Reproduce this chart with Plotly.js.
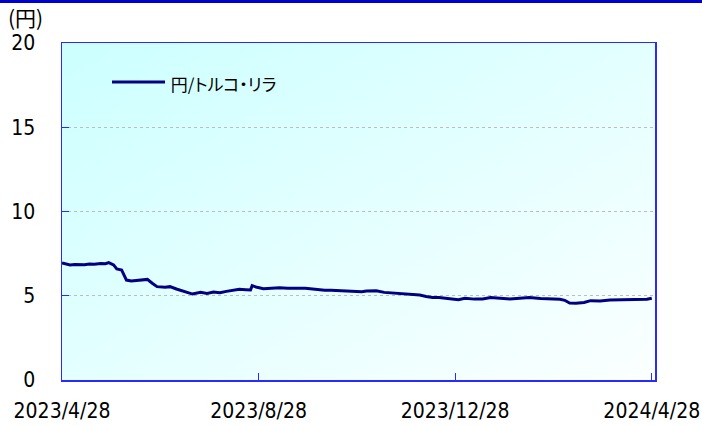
<!DOCTYPE html>
<html>
<head>
<meta charset="utf-8">
<script src="https://cdn.plot.ly/plotly-3.0.1.min.js"></script>
<style>
html,body{margin:0;padding:0;background:#fff;}
#wrap{position:relative;width:702px;height:425px;}
#topbar{position:absolute;left:0;top:0;width:702px;height:3px;background:#0000cc;z-index:5;}
#chart{position:absolute;left:0;top:0;width:702px;height:425px;}
#chart .annotation-text{font-feature-settings:"palt" 1;}
</style>
</head>
<body>
<div id="wrap"><div id="chart"></div><div id="topbar"></div></div>
<script>
const seriesName = '円/トルコ・リラ';
const unitLabel = '(円)';
const dates = ['2023-04-28','2023-05-01','2023-05-03','2023-05-06','2023-05-09','2023-05-12','2023-05-15','2023-05-18','2023-05-22','2023-05-25','2023-05-27','2023-05-30','2023-06-01','2023-06-04','2023-06-05','2023-06-07','2023-06-10','2023-06-15','2023-06-20','2023-06-23','2023-06-26','2023-07-01','2023-07-04','2023-07-08','2023-07-13','2023-07-18','2023-07-23','2023-07-27','2023-07-31','2023-08-04','2023-08-08','2023-08-12','2023-08-16','2023-08-20','2023-08-23','2023-08-24','2023-08-27','2023-08-31','2023-09-04','2023-09-10','2023-09-15','2023-09-20','2023-09-26','2023-10-02','2023-10-08','2023-10-12','2023-10-17','2023-10-22','2023-10-27','2023-10-31','2023-11-03','2023-11-06','2023-11-09','2023-11-14','2023-11-21','2023-11-27','2023-12-01','2023-12-06','2023-12-10','2023-12-14','2023-12-18','2023-12-21','2023-12-25','2023-12-30','2024-01-03','2024-01-09','2024-01-14','2024-01-19','2024-01-25','2024-01-31','2024-02-06','2024-02-12','2024-02-19','2024-02-25','2024-03-02','2024-03-05','2024-03-08','2024-03-12','2024-03-17','2024-03-21','2024-03-27','2024-04-02','2024-04-08','2024-04-14','2024-04-21','2024-04-25','2024-04-28'];
const values = [6.95,6.90,6.83,6.86,6.85,6.84,6.88,6.87,6.92,6.90,6.97,6.83,6.59,6.53,6.33,5.93,5.87,5.92,5.97,5.74,5.54,5.50,5.54,5.40,5.24,5.10,5.20,5.14,5.22,5.18,5.26,5.32,5.38,5.36,5.34,5.60,5.50,5.42,5.46,5.48,5.44,5.44,5.44,5.38,5.32,5.33,5.30,5.30,5.28,5.24,5.28,5.27,5.30,5.20,5.14,5.10,5.06,5.04,4.96,4.89,4.89,4.85,4.81,4.77,4.85,4.80,4.81,4.89,4.85,4.81,4.85,4.89,4.83,4.83,4.79,4.73,4.57,4.55,4.60,4.71,4.69,4.75,4.75,4.77,4.79,4.79,4.85];
const xTickVals = ['2023-04-28','2023-08-28','2023-12-28','2024-04-28'];
const xTickText = ['2023/4/28','2023/8/28','2023/12/28','2024/4/28'];
const yTickVals = [0,5,10,15,20];

const W=702,H=425,ml=62,mr=47,mt=43,mb=45;
const pw=W-ml-mr, ph=H-mt-mb;
const axisBlue='#2a2aff';
const numFont={family:'DejaVu Sans Condensed, DejaVu Sans, sans-serif',size:21,color:'#000'};

const grad='data:image/svg+xml;utf8,'+encodeURIComponent(
 '<svg xmlns="http://www.w3.org/2000/svg" width="100" height="100" preserveAspectRatio="none">'+
 '<defs><linearGradient id="g" x1="0" y1="0" x2="1" y2="1">'+
 '<stop offset="0" stop-color="#ccffff"/><stop offset="1" stop-color="#fbffff"/></linearGradient></defs>'+
 '<rect width="100" height="100" fill="url(#g)"/></svg>');

const trace={x:dates,y:values,type:'scatter',mode:'lines',name:seriesName,
 line:{color:'#000080',width:3},showlegend:false,hoverinfo:'x+y'};

const layout={
 width:W,height:H,
 margin:{l:ml,r:mr,t:mt,b:mb,pad:0},
 paper_bgcolor:'#ffffff',plot_bgcolor:'rgba(0,0,0,0)',
 showlegend:false,
 xaxis:{type:'date',range:['2023-04-28','2024-04-30'],tickvals:xTickVals,ticktext:xTickText,
  ticks:'inside',ticklen:7,tickcolor:axisBlue,tickwidth:1,showgrid:false,zeroline:false,
  showline:true,linecolor:axisBlue,linewidth:1.5,mirror:true,tickfont:numFont,ticklabelstandoff:11},
 yaxis:{range:[0,20],tickvals:yTickVals,ticks:'inside',ticklen:7,tickcolor:axisBlue,tickwidth:1,
  showgrid:true,gridcolor:'#bdbdbd',griddash:'dot',gridwidth:1,zeroline:false,
  showline:true,linecolor:axisBlue,linewidth:1.5,mirror:true,tickfont:numFont,ticklabelstandoff:21},
 images:[{source:grad,xref:'paper',yref:'paper',x:0,y:1,sizex:1,sizey:1,sizing:'stretch',
  xanchor:'left',yanchor:'top',layer:'below'}],
 shapes:[{type:'line',xref:'paper',yref:'paper',x0:50/pw,x1:103/pw,y0:1-39/ph,y1:1-39/ph,
  line:{color:'#000080',width:3}}],
 annotations:[
  {text:seriesName,xref:'paper',yref:'paper',x:97/pw,y:1-40/ph,xanchor:'left',yanchor:'middle',
   showarrow:false,font:{family:'Noto Sans CJK JP',size:17,color:'#000'}},
  {text:unitLabel,xref:'paper',yref:'paper',x:-ml/pw+6/pw,y:1+(mt-17)/ph,xanchor:'left',yanchor:'middle',
   showarrow:false,font:{family:'Noto Sans CJK JP',size:21,color:'#000'}}
 ]
};
Plotly.newPlot('chart',[trace],layout,{staticPlot:true,displayModeBar:false});
</script>
</body>
</html>
